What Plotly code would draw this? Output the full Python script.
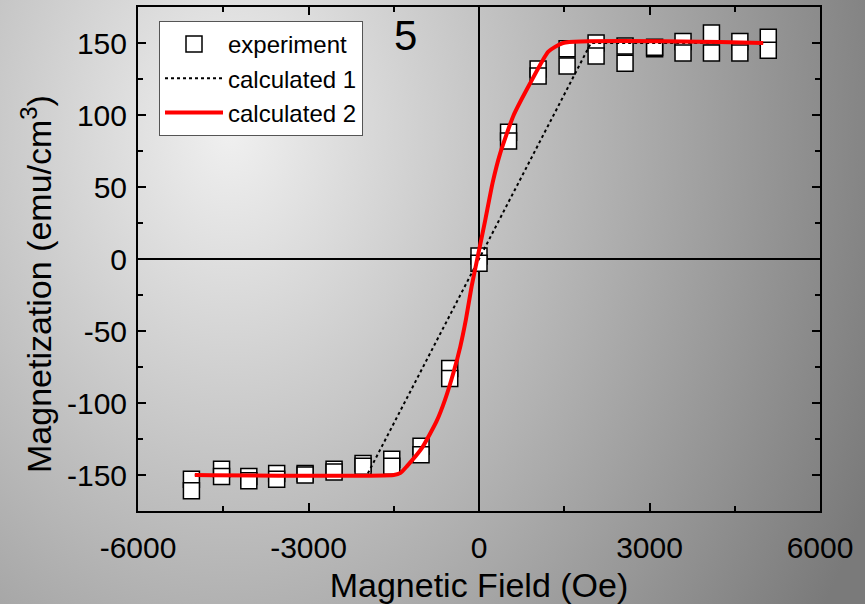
import base64
import plotly.graph_objects as go

# ---------------- data ----------------
field = [-5060, -4530, -4050, -3560, -3060, -2550, -2040, -1535, -1020, -515,
         0, 520, 1040, 1550, 2060, 2570, 3090, 3590, 4090, 4590, 5090]
mag_branch_a = [-153, -146, -151, -149, -149, -146, -142, -139, -130, -76,
                2, 88, 132, 146, 150, 148, 146, 151, 157, 151, 154]
mag_branch_b = [-161, -151, -154, -153, -150, -148, -144, -144, -136, -83,
                -3, 82, 127, 134, 141, 136, 147, 143, 143, 143, 145]

calc1_field = [-5000, -1970, 1970, 5000]
calc1_mag = [-150, -150, 150, 150]

calc2_field = [-5000, -1500, -1380, -1270, -1000, -750, -600, -450, -330, -230,
               -130, -10, 110, 240, 370, 600, 900, 1220, 1480, 5000]
calc2_mag = [-150, -150, -148.5, -144, -131, -113, -98, -79, -61, -42,
             -19, 4, 27, 53, 73, 99, 122, 144, 150, 150]

x_ticks = [-6000, -3000, 0, 3000, 6000]
y_ticks = [-150, -100, -50, 0, 50, 100, 150]

# ---------------- layout constants ----------------
W, H = 865, 604
ML, MR, MT, MB = 138, 45, 7, 93
PW, PH = W - ML - MR, H - MT - MB
FONT = "Liberation Sans, Arial, sans-serif"

svg = f'''<svg xmlns="http://www.w3.org/2000/svg" width="{W}" height="{H}" viewBox="0 0 {W} {H}">
<defs><radialGradient id="g" gradientUnits="userSpaceOnUse" cx="0" cy="0" r="1"
 gradientTransform="translate(230,130) scale(700,900)">
<stop offset="0" stop-color="#f0f0f0"/><stop offset="1" stop-color="#7a7a7a"/>
</radialGradient></defs>
<rect x="0" y="0" width="{W}" height="{H}" fill="url(#g)"/></svg>'''
bg_src = "data:image/svg+xml;base64," + base64.b64encode(svg.encode()).decode()

fig = go.Figure()

x_all = field + field
m_all = mag_branch_a + mag_branch_b
fig.add_trace(go.Scatter(
    x=x_all, y=m_all, mode="markers", name="experiment",
    marker=dict(symbol="square", size=16, color="white",
                line=dict(color="black", width=1.5)),
))
fig.add_trace(go.Scatter(
    x=calc1_field, y=calc1_mag, mode="lines", name="calculated 1",
    line=dict(color="black", width=2, dash="3px,3px"),
))
fig.add_trace(go.Scatter(
    x=calc2_field, y=calc2_mag, mode="lines", name="calculated 2",
    line=dict(color="#ff0000", width=4, shape="spline", smoothing=0.5),
))

axis_common = dict(
    showline=True, linecolor="black", linewidth=2, mirror="allticks",
    ticks="inside", ticklen=8, tickwidth=2, tickcolor="black",
    showgrid=False, zeroline=True, zerolinecolor="black", zerolinewidth=2,
    tickfont=dict(family=FONT, size=30, color="black"),
)

fig.update_layout(
    width=W, height=H,
    margin=dict(l=ML, r=MR, t=MT, b=MB, autoexpand=False),
    paper_bgcolor="#c0c0c0", plot_bgcolor="rgba(0,0,0,0)",
    font=dict(family=FONT, color="black"),
    showlegend=True,
    legend=dict(
        x=(159 - ML) / PW, y=1 - (21 - MT) / PH, xanchor="left", yanchor="top",
        bgcolor="white", bordercolor="#555555", borderwidth=1,
        font=dict(family=FONT, size=24, color="black"),
        tracegroupgap=0, itemwidth=58,
    ),
    xaxis=dict(
        range=[-6000, 6000], tickvals=x_ticks, ticktext=[str(v) for v in x_ticks],
        minor=dict(ticks="inside", dtick=1500, tick0=0, ticklen=5, tickwidth=2,
                   tickcolor="black"),
        ticklabelstandoff=9,
        title=dict(text="Magnetic Field (Oe)", font=dict(family=FONT, size=34),
                   standoff=12),
        **axis_common,
    ),
    yaxis=dict(
        range=[-175, 175], tickvals=y_ticks, ticktext=[str(v) for v in y_ticks],
        minor=dict(ticks="inside", dtick=25, tick0=0, ticklen=5, tickwidth=2,
                   tickcolor="black"),
        ticklabelstandoff=3,
        **axis_common,
    ),
    images=[dict(
        source=bg_src, xref="paper", yref="paper",
        x=-ML / PW, y=1 + MT / PH, sizex=W / PW, sizey=H / PH,
        xanchor="left", yanchor="top", sizing="stretch", layer="below",
    )],
    annotations=[
        dict(x=-1300, y=155, xref="x", yref="y", text="5", showarrow=False,
             font=dict(family=FONT, size=42, color="black")),
        dict(x=(36 - ML) / PW, y=(ML * 0 + (H - MB) - 284) / PH,
             xref="paper", yref="paper", xanchor="center", yanchor="middle",
             text="Magnetization (emu/cm<sup>3</sup>)", textangle=-90,
             showarrow=False, font=dict(family=FONT, size=34, color="black")),
    ],
)

fig.write_html("out.html")
